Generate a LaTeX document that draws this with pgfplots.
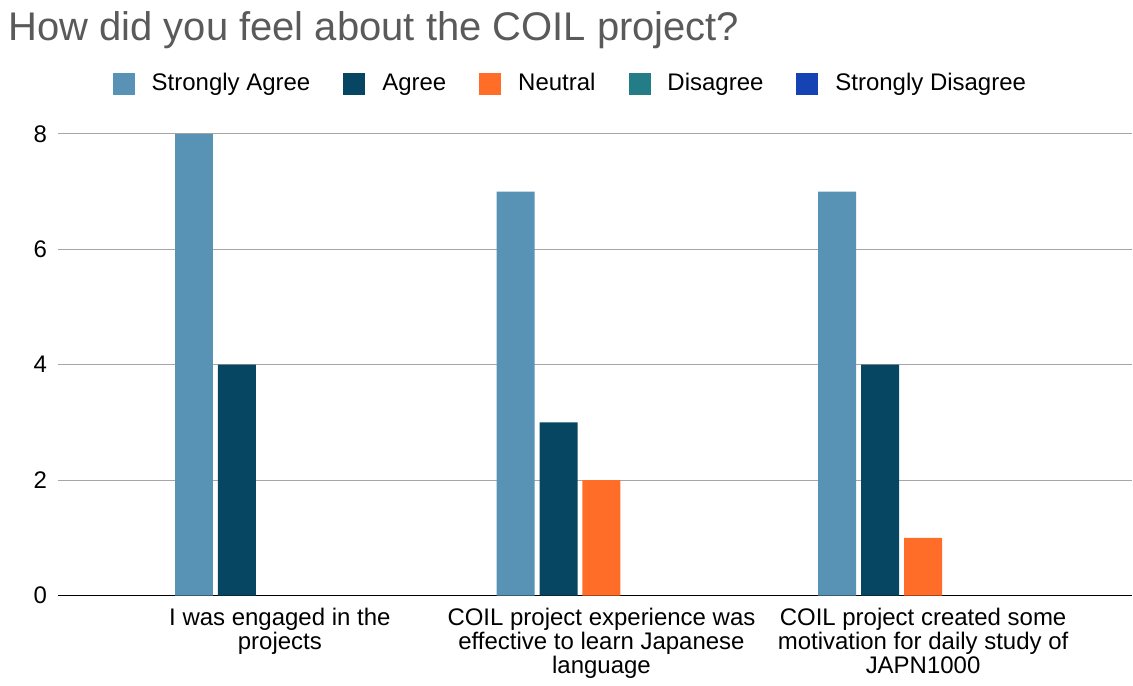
\documentclass[border=0pt]{standalone}
\usepackage{pgfplots}
\pgfplotsset{compat=1.18}
\usepackage{fontspec}
\setmainfont{Liberation Sans}
\definecolor{cSA}{RGB}{88,147,181}
\definecolor{cA}{RGB}{6,70,98}
\definecolor{cN}{RGB}{255,109,40}
\definecolor{cD}{RGB}{35,125,135}
\definecolor{cSD}{RGB}{21,67,180}
\definecolor{titlegray}{RGB}{90,90,90}
\begin{document}
\begin{tikzpicture}[x=1pt,y=1pt]
\path (-29,-41.5) rectangle (537.5,298);
\node[anchor=west,text=titlegray,font=\fontsize{20}{22}\selectfont,inner sep=0pt] at (-25,283) {How did you feel about the COIL project?};
\begin{axis}[
  at={(0,0)}, anchor=south west,
  scale only axis, width=537.5pt, height=231pt,
  xmin=-0.69, xmax=2.65, ymin=0, ymax=8,
  ybar, bar width=0.118,
  axis x line*=bottom, axis y line*=left,
  x axis line style={black, line width=0.9pt, -},
  y axis line style={draw=none},
  ytick={0,2,4,6,8},
  ymajorgrids, grid style={gray!70, line width=0.5pt},
  xtick={0,1,2},
  xticklabels={I was engaged in the\\projects, COIL project experience was\\effective to learn Japanese\\language, COIL project created some\\motivation for daily study of\\JAPN1000},
  xticklabel style={align=center, font=\fontsize{12}{12}\selectfont, yshift=-3pt},
  major tick length=0pt,
  yticklabel style={font=\fontsize{12}{13}\selectfont, xshift=-2pt},
  /pgf/number format/assume math mode=true,
  clip=false,
  legend columns=5,
  legend style={at={(0.478,1.108)}, anchor=center, draw=none, fill=none,
    font=\fontsize{12}{13}\selectfont,
    nodes={text height=8.5pt, text depth=2.5pt},
    /tikz/every odd column/.append style={column sep=6.5pt},
    /tikz/every even column/.append style={column sep=14.5pt}},
  legend image code/.code={\fill[#1] (0pt,-5.5pt) rectangle (11pt,5.5pt);},
]
\addplot[fill=cSA, draw=none, bar shift=-0.267] coordinates {(0,8) (1,7) (2,7)};
\addlegendentry{Strongly Agree}
\addplot[fill=cA, draw=none, bar shift=-0.1335] coordinates {(0,4) (1,3) (2,4)};
\addlegendentry{Agree}
\addplot[fill=cN, draw=none, bar shift=0] coordinates {(1,2) (2,1)};
\addlegendentry{Neutral}
\addlegendimage{fill=cD, draw=none}
\addlegendentry{Disagree}
\addlegendimage{fill=cSD, draw=none}
\addlegendentry{Strongly Disagree}
\end{axis}
\end{tikzpicture}
\end{document}
